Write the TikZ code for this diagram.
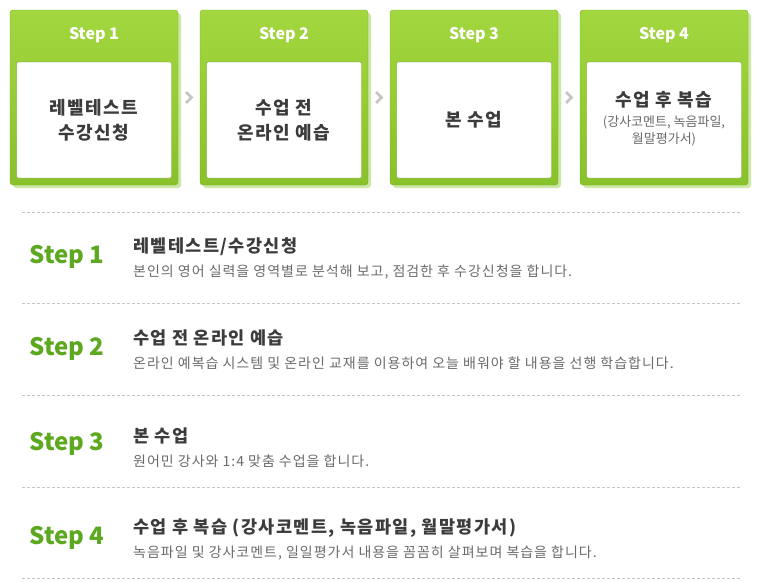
\documentclass[tikz,border=0pt]{standalone}
\usepackage{fontspec}
\setmainfont{Noto Sans CJK KR}
\usetikzlibrary{positioning, shadows, calc}

\definecolor{cardtop}{HTML}{A3D73F}
\definecolor{cardbot}{HTML}{89C12A}
\definecolor{cardedge}{HTML}{7AB226}
\definecolor{cardshadow}{HTML}{CDE7A4}
\definecolor{labelgreen}{HTML}{5CA81E}
\definecolor{titlegray}{HTML}{3C3C3C}
\definecolor{textgray}{HTML}{6A6A6A}
\definecolor{linegray}{HTML}{C4C4C4}

\begin{document}
\begin{tikzpicture}[x=1pt, y=-1pt, node distance=190pt, on grid,
    card/.style={draw=cardedge, rounded corners=3pt, top color=cardtop, bottom color=cardbot,
        minimum width=168pt, minimum height=175pt, inner sep=0pt,
        drop shadow={shadow xshift=3pt, shadow yshift=-3pt, fill=cardshadow, opacity=1}},
    panel/.style={draw=cardedge!85!black, fill=white, rounded corners=1pt,
        minimum width=155pt, minimum height=116pt, align=center, text=titlegray,
        font=\fontsize{18}{25}\selectfont\bfseries\addfontfeature{LetterSpace=8}},
    cardhead/.style={text=white, font=\fontsize{16}{18}\selectfont\bfseries},
    cardnote/.style={text=textgray, align=center, font=\fontsize{13}{17}\selectfont},
    chev/.style={draw=linegray, line width=2.5pt},
    rowlabel/.style={anchor=west, text=labelgreen, font=\fontsize{24}{26}\selectfont\bfseries},
    rowtitle/.style={anchor=west, inner sep=0pt, text=titlegray,
        font=\fontsize{17.5}{20}\selectfont\bfseries\addfontfeature{LetterSpace=8}},
    rowtext/.style={anchor=west, inner sep=0pt, text=textgray,
        font=\fontsize{14}{16}\selectfont\addfontfeature{LetterSpace=7}},
    sep/.style={draw=linegray, line width=1pt, dash pattern=on 3pt off 2pt}]

    \useasboundingbox (0,0) rectangle (759,581);

    % top cards
    \node[card] (c1) at (94,97.5) {};
    \node[card] (c2) [right=of c1] {};
    \node[card] (c3) [right=of c2] {};
    \node[card] (c4) [right=of c3] {};

    \node[cardhead] (h1) at ([yshift=62.5pt]c1.center) {Step 1};
    \node[cardhead] (h2) at ([yshift=62.5pt]c2.center) {Step 2};
    \node[cardhead] (h3) at ([yshift=62.5pt]c3.center) {Step 3};
    \node[cardhead] (h4) at ([yshift=62.5pt]c4.center) {Step 4};

    \node[panel] (w1) at ([yshift=-22.5pt]c1.center) {레벨테스트\\수강신청};
    \node[panel] (w2) at ([yshift=-22.5pt]c2.center) {수업 전\\온라인 예습};
    \node[panel] (w3) at ([yshift=-22.5pt]c3.center) {본 수업};
    \node[panel] (w4) at ([yshift=-22.5pt]c4.center) {};
    \node[panel, draw=none, fill=none, minimum size=0pt] (w4t) at ([yshift=20pt]w4.center) {수업 후 복습};
    \node[cardnote] (w4n) at ([yshift=-11pt]w4.center) {(강사코멘트, 녹음파일,\\월말평가서)};

    % chevrons between cards
    \coordinate (g1) at ($(c1.east)!0.5!(c2.west)$);
    \coordinate (g2) at ($(c2.east)!0.5!(c3.west)$);
    \coordinate (g3) at ($(c3.east)!0.5!(c4.west)$);
    \draw[chev] ([xshift=-3pt,yshift=5.5pt]g1) -- ([xshift=2.5pt]g1) -- ([xshift=-3pt,yshift=-5.5pt]g1);
    \draw[chev] ([xshift=-3pt,yshift=5.5pt]g2) -- ([xshift=2.5pt]g2) -- ([xshift=-3pt,yshift=-5.5pt]g2);
    \draw[chev] ([xshift=-3pt,yshift=5.5pt]g3) -- ([xshift=2.5pt]g3) -- ([xshift=-3pt,yshift=-5.5pt]g3);

    % separators
    \draw[sep] (22,212) -- (742,212) (22,303) -- (742,303) (22,395) -- (742,395)
        (22,487) -- (742,487) (22,578) -- (742,578);

    % rows
    \node[rowlabel] (l1) at (26,257) {Step 1};
    \node[rowtitle] (t1) at (133,247) {레벨테스트/수강신청};
    \node[rowtext] (d1) [below=25pt of t1.west, anchor=west] {본인의 영어 실력을 영역별로 분석해 보고, 점검한 후 수강신청을 합니다.};

    \node[rowlabel] (l2) at (26,349) {Step 2};
    \node[rowtitle] (t2) at (133,338) {수업 전 온라인 예습};
    \node[rowtext] (d2) [below=25pt of t2.west, anchor=west] {온라인 예복습 시스템 및 온라인 교재를 이용하여 오늘 배워야 할 내용을 선행 학습합니다.};

    \node[rowlabel] (l3) at (26,444) {Step 3};
    \node[rowtitle] (t3) at (133,436) {본 수업};
    \node[rowtext] (d3) [below=25pt of t3.west, anchor=west] {원어민 강사와 1:4 맞춤 수업을 합니다.};

    \node[rowlabel] (l4) at (26,538) {Step 4};
    \node[rowtitle] (t4) at (133,528) {수업 후 복습 (강사코멘트, 녹음파일, 월말평가서)};
    \node[rowtext] (d4) [below=25pt of t4.west, anchor=west] {녹음파일 및 강사코멘트, 일일평가서 내용을 꼼꼼히 살펴보며 복습을 합니다.};

\end{tikzpicture}
\end{document}
